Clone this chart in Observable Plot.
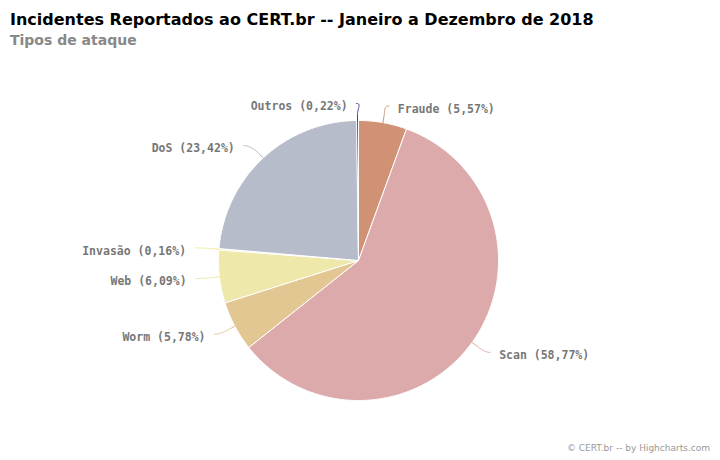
<!DOCTYPE html>
<html><head><meta charset="utf-8">
<script src="https://cdn.jsdelivr.net/npm/d3@7"></script>
<script src="https://cdn.jsdelivr.net/npm/@observablehq/plot@0.6"></script>
<style>
body{margin:0;background:#fff;font-family:"DejaVu Sans",sans-serif;width:720px;height:460px;overflow:hidden;position:relative}
#title{position:absolute;left:10px;top:10px;font-size:16px;font-weight:bold;color:#000;line-height:20px;white-space:nowrap}
#subtitle{position:absolute;left:10px;top:30px;font-size:14px;font-weight:bold;color:#888;line-height:20px}
#chart{position:absolute;left:0;top:50px}
#credit{position:absolute;right:10px;top:441px;font-size:9px;color:#999;line-height:14px}
</style></head>
<body>
<div id="title">Incidentes Reportados ao CERT.br -- Janeiro a Dezembro de 2018</div>
<div id="subtitle">Tipos de ataque</div>
<div id="chart"></div>
<div id="credit">© CERT.br -- by Highcharts.com</div>
<script>
const categories = ["Fraude", "Scan", "Worm", "Web", "Invasão", "DoS", "Outros"];
const values = [5.57, 58.77, 5.78, 6.09, 0.16, 23.42, 0.22];
const palette = ["#d19175", "#dcaaab", "#e3c793", "#eee8aa", "#f2ea9a", "#b7bcca", "#434394"];

const W = 720, H = 390;
const cx = 358, cy = 210, R = 140;
const labelRX = 171, labelRY = 157, labelDY = 3;

const arcs = d3.pie().sort(null).value(d => d)(values);
const slicePts = [];
const connPts = [];
const labels = [];
arcs.forEach((a, i) => {
  const name = categories[i];
  slicePts.push({name, x: cx, y: cy});
  const n = Math.max(2, Math.ceil((a.endAngle - a.startAngle) / 0.01));
  for (let k = 0; k <= n; k++) {
    const t = a.startAngle + (a.endAngle - a.startAngle) * k / n;
    slicePts.push({name, x: cx + R * Math.sin(t), y: cy - R * Math.cos(t)});
  }
  slicePts.push({name, x: cx, y: cy});
  const m = (a.startAngle + a.endAngle) / 2;
  const side = Math.sin(m) >= 0 ? 1 : -1;
  const ny = cy - (R + 30) * Math.cos(m);
  const y = cy - labelRY * Math.cos(m) + labelDY;
  const x = cx + labelRX * Math.sin(m) + side * (2 + 0.7 * Math.max(0, y - ny - 5));
  labels.push({name, m, side, x, y,
    text: `${name} (${values[i].toFixed(2).replace(".", ",")}%)`});
});
labels.forEach(l => {
  // soft connector from the label to the slice edge
  const ex = l.x - l.side * 9, ey = l.y - 3;
  const Tx = cx + R * Math.sin(l.m), Ty = cy - R * Math.cos(l.m);
  const Bx = cx + (R + 6) * Math.sin(l.m), By = cy - (R + 6) * Math.cos(l.m);
  const p0 = [ex, ey], p1 = [ex - l.side * 5, ey], p2 = [2 * Bx - Tx, 2 * By - Ty], p3 = [Bx, By];
  for (let k = 0; k <= 24; k++) {
    const t = k / 24, u = 1 - t;
    connPts.push({name: l.name,
      x: u*u*u*p0[0] + 3*u*u*t*p1[0] + 3*u*t*t*p2[0] + t*t*t*p3[0],
      y: u*u*u*p0[1] + 3*u*u*t*p1[1] + 3*u*t*t*p2[1] + t*t*t*p3[1]});
  }
  connPts.push({name: l.name, x: Tx, y: Ty});
});

const textStyle = {fontFamily: "DejaVu Sans Mono", fontWeight: "bold", fontSize: 11.5, fill: "#777"};
const chart = Plot.plot({
  width: W, height: H, margin: 0,
  x: {domain: [0, W], range: [0, W], axis: null},
  y: {domain: [0, H], range: [0, H], axis: null},
  color: {domain: categories, range: palette},
  marks: [
    Plot.line(slicePts, {x: "x", y: "y", z: "name", fill: "name", stroke: "white", strokeWidth: 1, strokeLinejoin: "round"}),
    Plot.line(connPts, {x: "x", y: "y", z: "name", stroke: "name", strokeWidth: 1}),
    Plot.text(labels.filter(l => l.side < 0), {x: "x", y: "y", text: "text", textAnchor: "end", ...textStyle}),
    Plot.text(labels.filter(l => l.side > 0), {x: "x", y: "y", text: "text", textAnchor: "start", ...textStyle})
  ]
});
document.getElementById("chart").appendChild(chart);
</script>
</body></html>
